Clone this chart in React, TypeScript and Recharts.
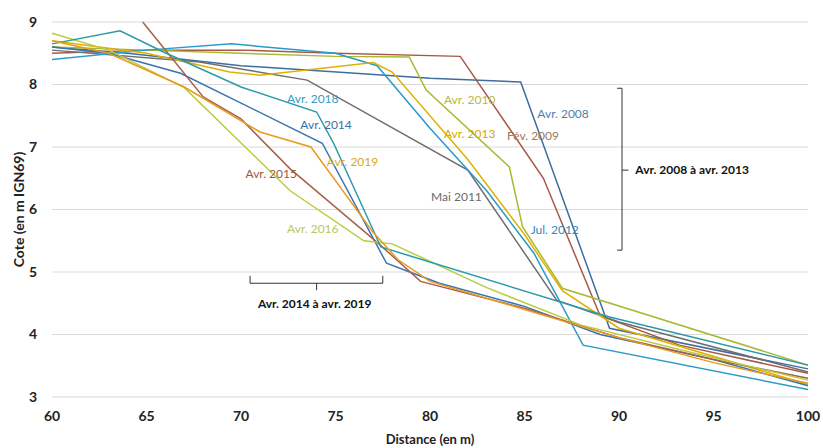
import React from "react";
import {
  LineChart,
  Line,
  XAxis,
  YAxis,
  CartesianGrid,
  ReferenceDot,
  ReferenceLine,
} from "recharts";

document.body.style.margin = "0";

// profils [distance (m), cote (m IGN69)]
const avr2008 = [[60, 8.6], [64, 8.5], [70, 8.3], [80, 8.1], [84.8, 8.04], [89.5, 4.1], [100, 3.45]];
const fev2009 = [[60, 8.5], [65, 8.55], [70, 8.55], [75, 8.5], [81.6, 8.45], [86, 6.5], [89, 4.3], [93.2, 3.83], [100, 3.38]];
const avr2010 = [[60, 8.6], [65, 8.55], [70, 8.5], [75, 8.45], [78.9, 8.44], [79.8, 7.91], [84.2, 6.68], [84.9, 5.72], [87, 4.74], [100, 3.51]];
const mai2011 = [[60, 8.55], [67.8, 8.36], [73.5, 8.07], [82, 6.63], [86.7, 4.55], [90, 4.2], [100, 3.4]];
const jul2012 = [[60, 8.4], [65, 8.55], [69.5, 8.65], [75, 8.5], [77.2, 8.3], [80, 7.3], [83, 6.3], [85.5, 5.3], [88.1, 3.83], [100, 3.12]];
const avr2013 = [[60, 8.7], [65, 8.5], [69.4, 8.2], [71, 8.15], [77, 8.35], [78, 8.2], [82, 6.8], [85, 5.6], [87, 4.7], [90, 4.1], [100, 3.2]];
const avr2014 = [[60, 8.6], [63, 8.5], [66.8, 8.18], [74.3, 7.06], [77.7, 5.14], [79.1, 4.98], [80.5, 4.82], [85, 4.45], [89, 4.0], [95, 3.6], [100, 3.18]];
const avr2015 = [[64.8, 9.0], [68, 7.8], [70, 7.45], [72.6, 6.65], [77.3, 5.45], [79.5, 4.85], [85, 4.42], [90, 3.95], [95, 3.6], [100, 3.3]];
const avr2016 = [[60, 8.82], [63, 8.55], [67, 7.95], [72.6, 6.3], [76.5, 5.5], [78, 5.45], [83, 4.75], [88, 4.15], [94, 3.7], [100, 3.27]];
const avr2018 = [[60, 8.65], [63.6, 8.86], [65.9, 8.52], [70, 7.96], [74, 7.56], [74.9, 7.06], [77.4, 5.4], [89.5, 4.28], [100, 3.51]];
const avr2019 = [[60, 8.7], [63, 8.5], [67, 7.96], [71, 7.24], [73.7, 7.0], [77, 5.63], [78.3, 5.2], [80, 4.85], [85, 4.4], [90, 3.95], [95, 3.55], [100, 3.22]];

const xTicks = [60, 65, 70, 75, 80, 85, 90, 95, 100];
const yTicks = [3, 4, 5, 6, 7, 8, 9];

const series = [
  { name: "Avr. 2008", color: "#3f6d9e", points: avr2008, lx: 87.04, ly: 7.54 },
  { name: "Fév. 2009", color: "#a55a48", points: fev2009, lx: 85.45, ly: 7.18 },
  { name: "Avr. 2010", color: "#aab832", points: avr2010, lx: 82.1, ly: 7.75 },
  { name: "Mai 2011", color: "#6e6e6e", points: mai2011, lx: 81.4, ly: 6.2 },
  { name: "Jul. 2012", color: "#2a9bc8", points: jul2012, lx: 86.6, ly: 5.67 },
  { name: "Avr. 2013", color: "#e0b000", points: avr2013, lx: 82.1, ly: 7.22 },
  { name: "Avr. 2014", color: "#3a74b0", points: avr2014, lx: 74.5, ly: 7.35 },
  { name: "Avr. 2015", color: "#a8604a", points: avr2015, lx: 71.6, ly: 6.58 },
  { name: "Avr. 2016", color: "#b8cc40", points: avr2016, lx: 73.8, ly: 5.69 },
  { name: "Avr. 2018", color: "#2a9aa8", points: avr2018, lx: 73.8, ly: 7.78 },
  { name: "Avr. 2019", color: "#e89a20", points: avr2019, lx: 75.9, ly: 6.76 },
];

const labelColors: Record<string, string> = {
  "Avr. 2008": "#4a7fb0",
  "Fév. 2009": "#a07860",
  "Avr. 2010": "#b8b840",
  "Mai 2011": "#6a6a6a",
  "Jul. 2012": "#2e8bc0",
  "Avr. 2013": "#d4a800",
  "Avr. 2014": "#3a70a8",
  "Avr. 2015": "#9a5a40",
  "Avr. 2016": "#b8c860",
  "Avr. 2018": "#3a9ab8",
  "Avr. 2019": "#d8a820",
};

const FONT = "Lato, 'Open Sans', sans-serif";

const YTitle = (props: any) => {
  const vb = props.viewBox || { x: 0, y: 0, width: 0, height: 0 };
  const cx = vb.x + 18;
  const cy = vb.y + vb.height / 2;
  return (
    <text
      x={cx}
      y={cy}
      transform={`rotate(-90 ${cx} ${cy})`}
      textAnchor="middle"
      dominantBaseline="central"
      fontSize={14}
      fontWeight="bold"
      fontFamily={FONT}
      fill="#222"
    >
      Cote (en m IGN69)
    </text>
  );
};

const bracketStroke = "#333";

export default function App() {
  return (
    <div style={{ width: 823, height: 448, background: "#fff" }}>
      <LineChart width={823} height={448} margin={{ top: 22, right: 15, bottom: 0, left: 0 }}>
        <CartesianGrid horizontal vertical={false} stroke="#d9d9d9" />
        <XAxis
          type="number"
          dataKey="x"
          domain={[60, 100]}
          ticks={xTicks}
          axisLine={false}
          tickLine={false}
          tickSize={0}
          tickMargin={14}
          height={51}
          tick={{ fontSize: 14, fontWeight: "bold", fill: "#222", fontFamily: FONT }}
          label={{
            value: "Distance (en m)",
            position: "insideBottom",
            offset: 4,
            fontSize: 13,
            fontWeight: "bold",
            fill: "#222",
            fontFamily: FONT,
          }}
        />
        <YAxis
          type="number"
          domain={[3, 9]}
          ticks={yTicks}
          axisLine={false}
          tickLine={false}
          tickSize={0}
          tickMargin={15}
          width={52}
          tick={{ fontSize: 14, fontWeight: "bold", fill: "#222", fontFamily: FONT }}
          label={<YTitle />}
        />
        {series.map((s) => (
          <Line
            key={s.name}
            type="linear"
            data={s.points.map(([x, y]) => ({ x, y }))}
            dataKey="y"
            stroke={s.color}
            strokeWidth={1.5}
            dot={false}
            activeDot={false}
            isAnimationActive={false}
          />
        ))}
        {series.map((s) => (
          <ReferenceDot
            key={`lab-${s.name}`}
            x={s.lx}
            y={s.ly}
            r={0}
            fill="none"
            stroke="none"
            label={{
              value: s.name,
              position: "center",
              fill: labelColors[s.name],
              fontSize: 12,
              fontFamily: FONT,
            }}
          />
        ))}
        {/* accolade droite : avr. 2008 à avr. 2013 */}
        <ReferenceLine segment={[{ x: 90.16, y: 7.94 }, { x: 90.16, y: 5.35 }]} stroke={bracketStroke} />
        <ReferenceLine segment={[{ x: 89.9, y: 7.94 }, { x: 90.16, y: 7.94 }]} stroke={bracketStroke} />
        <ReferenceLine segment={[{ x: 89.9, y: 5.35 }, { x: 90.16, y: 5.35 }]} stroke={bracketStroke} />
        <ReferenceLine segment={[{ x: 90.16, y: 6.63 }, { x: 90.5, y: 6.63 }]} stroke={bracketStroke} />
        <ReferenceDot
          x={90.6}
          y={6.63}
          r={0}
          fill="none"
          stroke="none"
          label={{
            value: "Avr. 2008 à avr. 2013",
            position: "right",
            offset: 5,
            fill: "#111",
            fontSize: 12,
            fontWeight: "bold",
            fontFamily: FONT,
          }}
        />
        {/* accolade basse : avr. 2014 à avr. 2019 */}
        <ReferenceLine segment={[{ x: 70.48, y: 4.82 }, { x: 77.5, y: 4.82 }]} stroke={bracketStroke} />
        <ReferenceLine segment={[{ x: 70.48, y: 4.82 }, { x: 70.48, y: 4.94 }]} stroke={bracketStroke} />
        <ReferenceLine segment={[{ x: 77.5, y: 4.82 }, { x: 77.5, y: 4.94 }]} stroke={bracketStroke} />
        <ReferenceLine segment={[{ x: 74.0, y: 4.82 }, { x: 74.0, y: 4.71 }]} stroke={bracketStroke} />
        <ReferenceDot
          x={73.9}
          y={4.5}
          r={0}
          fill="none"
          stroke="none"
          label={{
            value: "Avr. 2014 à avr. 2019",
            position: "center",
            fill: "#111",
            fontSize: 12,
            fontWeight: "bold",
            fontFamily: FONT,
          }}
        />
      </LineChart>
    </div>
  );
}
